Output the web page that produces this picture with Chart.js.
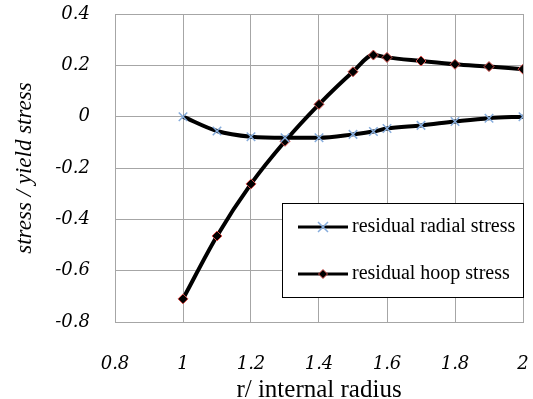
<!DOCTYPE html>
<html>
<head>
<meta charset="utf-8">
<script src="https://cdn.jsdelivr.net/npm/chart.js@4.4.1/dist/chart.umd.min.js"></script>
<style>
html,body{margin:0;padding:0;background:#fff;}
#wrap{width:533px;height:399px;position:relative;}
</style>
</head>
<body>
<div id="wrap"><canvas id="c" width="533" height="399"></canvas></div>
<script>
// Data
const radialX = [1, 1.1, 1.2, 1.3, 1.4, 1.5, 1.56, 1.6, 1.7, 1.8, 1.9, 2];
const radialY = [0, -0.056, -0.078, -0.082, -0.082, -0.069, -0.058, -0.046, -0.034, -0.019, -0.006, 0];
const hoopX = [1, 1.1, 1.2, 1.3, 1.4, 1.5, 1.56, 1.6, 1.7, 1.8, 1.9, 2];
const hoopY = [-0.71, -0.465, -0.262, -0.096, 0.048, 0.175, 0.240, 0.231, 0.217, 0.204, 0.195, 0.185];
const seriesNames = ['residual radial stress', 'residual hoop stress'];
const xTicks = [0.8, 1, 1.2, 1.4, 1.6, 1.8, 2];
const yTicks = [0.4, 0.2, 0, -0.2, -0.4, -0.6, -0.8];
const xTitle = 'r/ internal radius';
const yTitle = 'stress / yield stress';

const GRID = '#a6a6a6';
const tickFont = {family: '"DejaVu Serif"', style: 'italic', size: 18};

function fmt(v){ return String(Math.round(v*10)/10); }

const legendPlugin = {
  id: 'boxLegend',
  afterDraw(chart){
    const ctx = chart.ctx;
    const ca = chart.chartArea;
    const bx = ca.left + 167, by = ca.top + 189, bw = ca.right - bx + 1, bh = 94;
    ctx.save();
    ctx.fillStyle = '#fff';
    ctx.fillRect(bx, by, bw, bh);
    ctx.strokeStyle = '#000';
    ctx.lineWidth = 1;
    ctx.strokeRect(Math.round(bx)+0.5, Math.round(by)+0.5, Math.round(bw)-1, bh);
    const rows = [by + 24, by + 71];
    chart.data.datasets.forEach((ds, i) => {
      const y = rows[i];
      ctx.strokeStyle = '#000';
      ctx.lineWidth = 3;
      ctx.beginPath();
      ctx.moveTo(bx + 16, y);
      ctx.lineTo(bx + 66, y);
      ctx.stroke();
      const cx = bx + 41;
      if (i === 0) {
        ctx.strokeStyle = ds.pointBorderColor;
        ctx.lineWidth = 1.5;
        const r = 5;
        ctx.beginPath();
        ctx.moveTo(cx - r, y - r); ctx.lineTo(cx + r, y + r);
        ctx.moveTo(cx + r, y - r); ctx.lineTo(cx - r, y + r);
        ctx.stroke();
      } else {
        const r = 4.5;
        ctx.fillStyle = ds.pointBackgroundColor;
        ctx.strokeStyle = ds.pointBorderColor;
        ctx.lineWidth = 1;
        ctx.beginPath();
        ctx.moveTo(cx, y - r); ctx.lineTo(cx + r, y); ctx.lineTo(cx, y + r); ctx.lineTo(cx - r, y);
        ctx.closePath();
        ctx.fill(); ctx.stroke();
      }
      ctx.fillStyle = '#000';
      ctx.font = '20px "Liberation Serif"';
      ctx.textBaseline = 'middle';
      ctx.textAlign = 'left';
      ctx.fillText(ds.label, bx + 70, y);
    });
    ctx.restore();
  }
};

new Chart(document.getElementById('c'), {
  type: 'line',
  data: {
    datasets: [
      {
        label: seriesNames[0],
        data: radialX.map((x, i) => ({x, y: radialY[i]})),
        borderColor: '#000',
        borderWidth: 4,
        cubicInterpolationMode: 'monotone',
        pointStyle: 'crossRot',
        pointRadius: 6,
        pointBorderWidth: 1.5,
        pointBorderColor: '#86acdc',
        pointBackgroundColor: '#86acdc',
        fill: false
      },
      {
        label: seriesNames[1],
        data: hoopX.map((x, i) => ({x, y: hoopY[i]})),
        borderColor: '#000',
        borderWidth: 4,
        cubicInterpolationMode: 'monotone',
        pointStyle: 'rectRot',
        pointRadius: 5,
        pointBorderWidth: 1,
        pointBorderColor: '#d9534f',
        pointBackgroundColor: '#000',
        fill: false
      }
    ]
  },
  options: {
    responsive: false,
    animation: false,
    devicePixelRatio: 1,
    layout: {padding: {top: 14, right: 10, left: 0, bottom: 0}},
    plugins: {legend: {display: false}, tooltip: {enabled: false}},
    scales: {
      x: {
        type: 'linear',
        min: 0.8, max: 2,
        afterBuildTicks(scale){ scale.ticks = xTicks.map(v => ({value: v})); },
        afterFit(scale){ scale.height = 77; scale.paddingLeft = 0; scale.paddingRight = 0; scale.paddingTop = 0; scale.paddingBottom = 0; },
        grid: {color: GRID, lineWidth: 1, drawTicks: false},
        border: {display: true, color: GRID, width: 1},
        ticks: {font: tickFont, color: '#000', padding: 32, maxRotation: 0, autoSkip: false, callback: v => fmt(v)},
        title: {display: true, text: xTitle, color: '#000', font: {family: '"Liberation Serif"', size: 25, lineHeight: 0.72}, padding: {top: 0, bottom: 0}}
      },
      y: {
        type: 'linear',
        min: -0.8, max: 0.4,
        afterBuildTicks(scale){ scale.ticks = yTicks.slice().reverse().map(v => ({value: v})); },
        afterFit(scale){ scale.width = 115; scale.paddingLeft = 0; scale.paddingRight = 0; scale.paddingTop = 0; scale.paddingBottom = 0; },
        grid: {color: GRID, lineWidth: 1, drawTicks: false},
        border: {display: true, color: GRID, width: 1},
        ticks: {font: tickFont, color: '#000', padding: 25, autoSkip: false, callback: v => fmt(v)},
        title: {display: true, text: yTitle, color: '#000', font: {family: '"Liberation Serif"', style: 'italic', size: 23, lineHeight: 1}, padding: {top: 13, bottom: 0}}
      }
    }
  },
  plugins: [legendPlugin]
});
</script>
</body>
</html>
